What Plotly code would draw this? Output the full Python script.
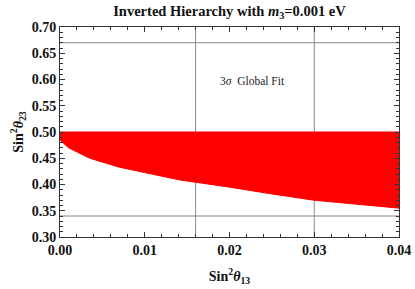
import plotly.graph_objects as go

# Data
s13_edge = [0.0, 0.001, 0.0035, 0.007, 0.012, 0.014, 0.02, 0.025, 0.03, 0.035, 0.04]
s23_low = [0.485, 0.470, 0.450, 0.433, 0.416, 0.409, 0.395, 0.382, 0.370, 0.362, 0.355]
s23_top = [0.50] * len(s13_edge)
sigma_s13 = [0.016, 0.030]
sigma_s23 = [0.34, 0.67]
x_ticks = [0.00, 0.01, 0.02, 0.03, 0.04]
y_ticks = [0.30, 0.35, 0.40, 0.45, 0.50, 0.55, 0.60, 0.65, 0.70]

fig = go.Figure()
fig.add_trace(go.Scatter(
    x=s13_edge + s13_edge[::-1],
    y=s23_top + s23_low[::-1],
    fill="toself", fillcolor="#ff0000", mode="lines",
    line=dict(color="#ff0000", width=1), hoverinfo="skip", showlegend=False))

for xv in sigma_s13:
    fig.add_vline(x=xv, line=dict(color="#888888", width=1), layer="below")
for yv in sigma_s23:
    fig.add_hline(y=yv, line=dict(color="#888888", width=1), layer="below")

fig.add_annotation(x=0.0227, y=0.597, text="3<i>σ</i>  Global Fit", showarrow=False,
                   font=dict(family="Liberation Serif", size=11.5, color="#222"))

tickfont = dict(family="Liberation Serif", size=14, color="#111")
fig.update_layout(
    width=415, height=289,
    margin=dict(l=60, r=16, t=27, b=52, autoexpand=False),
    paper_bgcolor="white", plot_bgcolor="white",
    title=dict(text="<b>Inverted Hierarchy with <i>m</i><sub>3</sub>=0.001 eV</b>",
               x=0.553, xanchor="center", y=0.963, yanchor="middle",
               font=dict(family="Liberation Serif", size=14.5, color="#111")),
    xaxis=dict(range=[0, 0.04], tickvals=x_ticks, automargin=False,
               ticktext=["<b>%.2f</b>" % v for v in x_ticks],
               ticks="inside", ticklen=5, tickcolor="#333", showline=True,
               linecolor="#333", mirror="ticks", showgrid=False, zeroline=False,
               tickfont=tickfont,
               minor=dict(dtick=0.002, ticks="inside", ticklen=3, tickcolor="#333"),
               title=dict(text="<b>Sin<sup>2</sup><i>θ</i><sub>13</sub></b>", standoff=14,
                          font=dict(family="Liberation Serif", size=14, color="#111"))),
    yaxis=dict(range=[0.30, 0.70], tickvals=y_ticks, automargin=False,
               ticktext=["<b>%.2f</b>" % v for v in y_ticks],
               ticks="inside", ticklen=5, tickcolor="#333", showline=True,
               linecolor="#333", mirror="ticks", showgrid=False, zeroline=False,
               tickfont=tickfont,
               minor=dict(dtick=0.01, ticks="inside", ticklen=3, tickcolor="#333"),
               title=dict(text="<b>Sin<sup>2</sup><i>θ</i><sub>23</sub></b>", standoff=4,
                          font=dict(family="Liberation Serif", size=14, color="#111"))),
)

fig.write_html("out.html", config={"displayModeBar": False},
               post_script="document.body.style.margin='0';document.body.style.overflow='hidden';")
